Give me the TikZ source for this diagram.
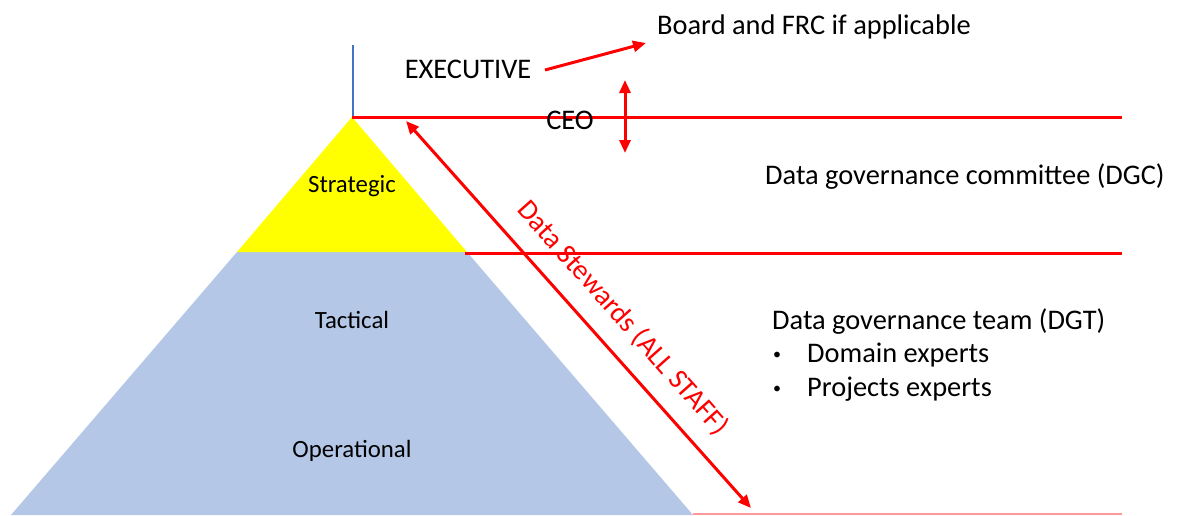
\documentclass[tikz,border=0pt]{standalone}
\usepackage{fontspec}
\setmainfont{Carlito}
\usetikzlibrary{arrows.meta}
\definecolor{pyrblue}{RGB}{180,199,231}
\definecolor{pyryellow}{RGB}{255,255,0}
\definecolor{linered}{RGB}{255,0,0}
\newcommand{\smallbullet}{\raisebox{3pt}{\fontsize{16}{16}\selectfont\textbullet}}
\begin{document}
\begin{tikzpicture}[x=1pt,y=-1pt,
  bigtext/.style={inner sep=0pt,font=\fontsize{28.4}{34}\selectfont},
  smalltext/.style={inner sep=0pt,font=\fontsize{24.8}{30}\selectfont},
  redline/.style={draw=linered,line width=3pt},
  redarrow/.style={draw=linered,line width=3pt,-{Triangle[length=13pt,width=11pt]}},
  reddouble/.style={draw=linered,line width=3pt,{Triangle[length=13pt,width=11pt]}-{Triangle[length=13pt,width=11pt]}}]
\useasboundingbox (0,0) rectangle (1179,515);

% pyramid: operational/tactical band and strategic tip
\fill[pyrblue] (237,252) -- (467,252) -- (693,515) -- (11,515) -- cycle;
\fill[pyryellow] (352,117) -- (467,252) -- (237,252) -- cycle;

% apex marker
\draw[color={rgb,255:red,68;green,114;blue,196},line width=1.5pt] (353,45) -- (353,117);

% level boundaries
\coordinate (l1a) at (352,117);  \coordinate (l1b) at (1122,117);
\coordinate (l2a) at (465,253);  \coordinate (l2b) at (1122,253);
\coordinate (l3a) at (693,514.2); \coordinate (l3b) at (1122,514.2);
\draw[redline] (l1a) -- (l1b);
\draw[redline] (l2a) -- (l2b);
\draw[draw=linered!40,line width=1.6pt] (l3a) -- (l3b);

% labels in the pyramid
\node[smalltext] (strat) at (352,186) {Strategic};
\node[smalltext] (tact) at (352,320) {Tactical};
\node[smalltext] (oper) at (352,451) {Operational};

% executive level
\node[bigtext] (exec) at (468,69) {EXECUTIVE};
\node[bigtext,anchor=west] (board) at (657,27) {Board and FRC if applicable};
\coordinate (exA) at (545,70);
\coordinate (exB) at (646,43);
\draw[redarrow] (exA) -- (exB);

\node[bigtext] (ceo) at (570,120) {CEO};
\coordinate (ceoA) at (625,80);
\coordinate (ceoB) at (625,153);
\draw[reddouble] (ceoA) -- (ceoB);

% committee and team descriptions
\node[bigtext,anchor=west] (dgc) at (765,177) {Data governance committee (DGC)};
\node[bigtext,anchor=west] (dgt) at (772,322) {Data governance team (DGT)};
\node[bigtext,anchor=west] (b1) at (773,355) {\smallbullet\hspace{26pt}Domain experts};
\node[bigtext,anchor=west] (b2) at (773,389) {\smallbullet\hspace{26pt}Projects experts};

% data stewards span all levels
\coordinate (dsA) at (406,121);
\coordinate (dsB) at (751,508);
\draw[reddouble] (dsA) -- (dsB);
\node[bigtext,text=linered,rotate=-48.3] (ds) at (623,318) {Data Stewards (ALL STAFF)};
\end{tikzpicture}
\end{document}
